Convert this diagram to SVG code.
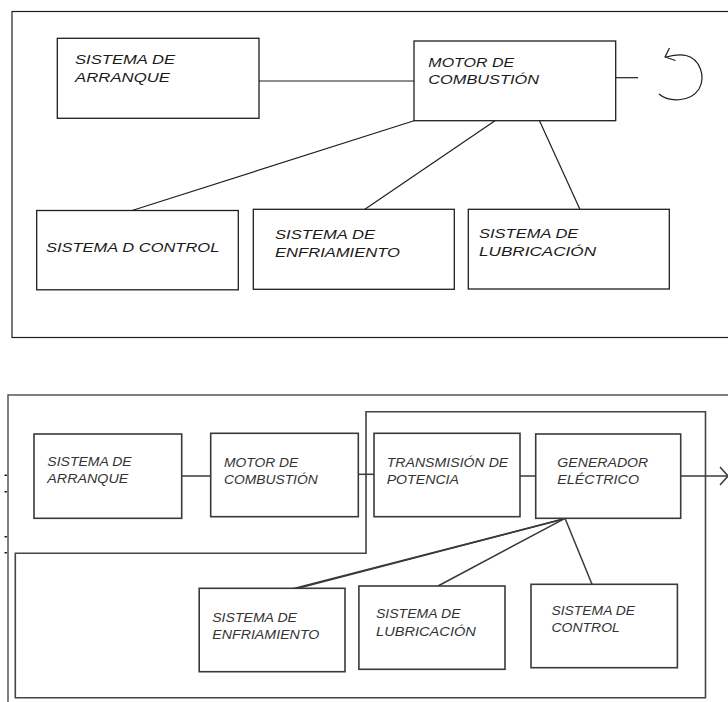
<svg xmlns="http://www.w3.org/2000/svg" width="728" height="702" viewBox="0 0 728 702">
<defs>
<style>
.bx{fill:#fff;stroke:#1e1e1e;stroke-width:1.3}
.bx2{fill:#fff;stroke:#3a3a3a;stroke-width:1.6}
.ln{fill:none;stroke:#1e1e1e;stroke-width:1.2}
.ln2{fill:none;stroke:#3a3a3a;stroke-width:1.5}
.t{font-family:"Liberation Sans",Arial,sans-serif;font-style:italic;font-size:13.5px;fill:#1a1a1a}
.t2{font-family:"Liberation Sans",Arial,sans-serif;font-style:italic;font-size:12.5px;fill:#333}
</style>
</defs>
<rect width="728" height="702" fill="#fff"/>
<!-- frames -->
<g id="frames">
<rect x="12" y="11.5" width="720" height="326" fill="none" stroke="#1e1e1e" stroke-width="1.2"/>
<rect x="8" y="395" width="724" height="312" fill="none" stroke="#555" stroke-width="1.5"/>
<path d="M366 411.7 H705.5 V697.7 H15.3 V553.3 H366 Z" fill="none" stroke="#444" stroke-width="1.6"/>
<g fill="#222"><rect x="4.5" y="474.5" width="2.5" height="1.5"/><rect x="4.5" y="491" width="2.5" height="1.5"/><rect x="4.5" y="536" width="2.5" height="1.5"/><rect x="4.5" y="552" width="2.5" height="1.5"/></g>
</g>
<!-- connectors -->
<g id="connectors">
<line class="ln" x1="259" y1="81" x2="414" y2="81"/>
<line class="ln" x1="414" y1="120.7" x2="132" y2="210.5"/>
<line class="ln" x1="495" y1="120.7" x2="364.5" y2="209.5"/>
<line class="ln" x1="539.5" y1="120.7" x2="580" y2="209.5"/>
<line class="ln" x1="615.7" y1="77.7" x2="638" y2="77.7"/>
<path class="ln" d="M659 94 C668 102 690 103 699 89 C706 76 700 59 686 55.5 C679 54 672 55.5 666 57"/>
<path class="ln" d="M669.5 48 L665 57 L675.5 60.5"/>
<line class="ln2" x1="181.7" y1="476" x2="210.7" y2="476"/>
<line class="ln2" x1="358.3" y1="474.3" x2="374" y2="474.3"/>
<line class="ln2" x1="520" y1="476" x2="535.7" y2="476"/>
<line class="ln2" x1="680.7" y1="476" x2="728" y2="476"/>
<path class="ln2" d="M720 467 L728 476 L720 485"/>
<line class="ln2" x1="562" y1="519.5" x2="290" y2="589.5"/>
<line class="ln2" x1="566" y1="518.3" x2="297" y2="588.5"/>
<line class="ln2" x1="565" y1="518.3" x2="438" y2="586"/>
<line class="ln2" x1="565" y1="518.3" x2="592" y2="584.3"/>
</g>
<!-- top diagram nodes -->
<g id="arranque1">
<rect class="bx" x="57.3" y="38.3" width="201.7" height="80"/>
<text class="t" x="75" y="64.3" textLength="100" lengthAdjust="spacingAndGlyphs">SISTEMA DE</text>
<text class="t" x="75" y="82.3" textLength="95" lengthAdjust="spacingAndGlyphs">ARRANQUE</text>
</g>
<g id="motor1">
<rect class="bx" x="414" y="41" width="201.7" height="79.7"/>
<text class="t" x="428.3" y="66.7" textLength="86" lengthAdjust="spacingAndGlyphs">MOTOR DE</text>
<text class="t" x="428.3" y="84.3" textLength="110.7" lengthAdjust="spacingAndGlyphs">COMBUSTIÓN</text>
</g>
<g id="control1">
<rect class="bx" x="36.7" y="210.5" width="201.6" height="79.3"/>
<text class="t" x="46" y="251.7" textLength="173.3" lengthAdjust="spacingAndGlyphs">SISTEMA D CONTROL</text>
</g>
<g id="enfriamiento1">
<rect class="bx" x="253.3" y="209.3" width="201" height="80"/>
<text class="t" x="275" y="239" textLength="100" lengthAdjust="spacingAndGlyphs">SISTEMA DE</text>
<text class="t" x="275" y="257.3" textLength="125" lengthAdjust="spacingAndGlyphs">ENFRIAMIENTO</text>
</g>
<g id="lubricacion1">
<rect class="bx" x="468.3" y="209.3" width="201" height="79.7"/>
<text class="t" x="479" y="238.3" textLength="99.3" lengthAdjust="spacingAndGlyphs">SISTEMA DE</text>
<text class="t" x="479" y="256" textLength="117" lengthAdjust="spacingAndGlyphs">LUBRICACIÓN</text>
</g>
<!-- bottom diagram nodes -->
<g id="arranque2">
<rect class="bx2" x="34" y="434" width="147.7" height="84.3"/>
<text class="t2" x="47.3" y="465.7" textLength="84.4" lengthAdjust="spacingAndGlyphs">SISTEMA DE</text>
<text class="t2" x="47.3" y="483.3" textLength="81" lengthAdjust="spacingAndGlyphs">ARRANQUE</text>
</g>
<g id="motor2">
<rect class="bx2" x="210.7" y="433.3" width="147.6" height="83.4"/>
<text class="t2" x="224" y="466.7" textLength="74.3" lengthAdjust="spacingAndGlyphs">MOTOR DE</text>
<text class="t2" x="224" y="484.3" textLength="93.7" lengthAdjust="spacingAndGlyphs">COMBUSTIÓN</text>
</g>
<g id="transmision2">
<rect class="bx2" x="374" y="433.3" width="146" height="83.4"/>
<text class="t2" x="386.7" y="466.7" textLength="121.6" lengthAdjust="spacingAndGlyphs">TRANSMISIÓN DE</text>
<text class="t2" x="386.7" y="484.3" textLength="72.3" lengthAdjust="spacingAndGlyphs">POTENCIA</text>
</g>
<g id="generador2">
<rect class="bx2" x="535.7" y="434" width="145" height="84.3"/>
<text class="t2" x="557.3" y="466.7" textLength="91" lengthAdjust="spacingAndGlyphs">GENERADOR</text>
<text class="t2" x="557.3" y="484.3" textLength="81.7" lengthAdjust="spacingAndGlyphs">ELÉCTRICO</text>
</g>
<g id="enfriamiento2">
<rect class="bx2" x="199.2" y="588.3" width="145.8" height="83.4"/>
<text class="t2" x="212.2" y="621.7" textLength="84.8" lengthAdjust="spacingAndGlyphs">SISTEMA DE</text>
<text class="t2" x="212.2" y="639.3" textLength="107.2" lengthAdjust="spacingAndGlyphs">ENFRIAMIENTO</text>
</g>
<g id="lubricacion2">
<rect class="bx2" x="358.9" y="586" width="146.1" height="83.3"/>
<text class="t2" x="376" y="618.3" textLength="84.5" lengthAdjust="spacingAndGlyphs">SISTEMA DE</text>
<text class="t2" x="376" y="635.7" textLength="99.9" lengthAdjust="spacingAndGlyphs">LUBRICACIÓN</text>
</g>
<g id="control2">
<rect class="bx2" x="531" y="584.3" width="146.4" height="83.4"/>
<text class="t2" x="551.5" y="615" textLength="83.5" lengthAdjust="spacingAndGlyphs">SISTEMA DE</text>
<text class="t2" x="551.5" y="632.3" textLength="68.3" lengthAdjust="spacingAndGlyphs">CONTROL</text>
</g>
</svg>
